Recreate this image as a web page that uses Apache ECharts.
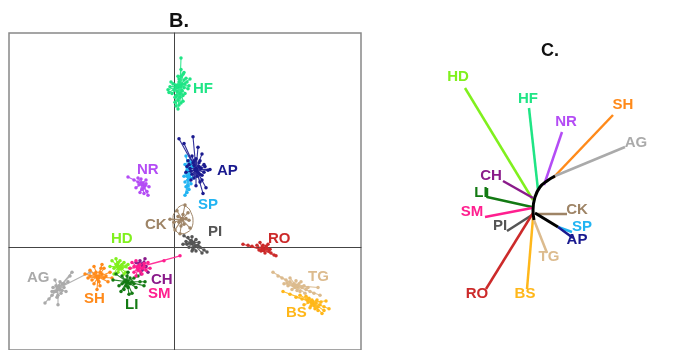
<!DOCTYPE html>
<html><head><meta charset="utf-8">
<script src="https://cdn.jsdelivr.net/npm/echarts@6/dist/echarts.min.js"></script>
<style>html,body{margin:0;padding:0;background:#fff}#c{width:697px;height:350px}</style>
</head><body><div id="c"></div>
<script>
// ---------- Panel B : PCA clusters ----------
const groups = ['AG','SH','HD','LI','CH','SM','CK','PI','NR','SP','AP','HF','RO','TG','BS'];
const groupColors = {
  HF:'#1fe585', AP:'#1a1a8f', SP:'#22b4f2', NR:'#b44cf5', CK:'#9e8466', PI:'#555555',
  RO:'#cc2a2a', TG:'#dcbb8e', BS:'#ffb71a', AG:'#aaaaaa', SH:'#ff8a1a', HD:'#80f01e',
  LI:'#137a13', SM:'#ff1f8f', CH:'#8a1a8a'
};
const centroidX = {HF:6, AP:22, SP:15, NR:-32, CK:8, PI:18, RO:89, TG:122, BS:138, AG:-116, SH:-76, HD:-56, LI:-47, SM:-36, CH:-32};
const centroidY = {HF:168, AP:81, SP:73, NR:66, CK:29, PI:5, RO:-3, TG:-40, BS:-57, AG:-43, SH:-31, HD:-20, LI:-36, SM:-21, CH:-18};

const ptsHF = [[7,197],[7,185],[9,180],[4,178],[12,176],[16,175],[5,172],[8,170],[2,168],[-4,167],[10,166],[14,165],[-6,164],[3,162],[6,160],[9,158],[1,156],[4,153],[7,150],[2,147],[4,144],[11,170],[-2,160],[8,163],[5,175],
  [10,182],[13,172],[-1,170],[0,164],[-5,161],[11,160],[6,156],[2,158],[9,152],[5,148],[3,166],[7,178],[15,168],[-3,172],[1,151],[10,174],[4,169]];
const ptsAP = [[5,113],[19,115],[10,108],[24,104],[28,97],[18,95],[14,90],[26,90],[30,86],[20,85],[16,82],[24,78],[34,80],[36,81],[28,75],[20,72],[17,70],[26,68],[22,64],[29,56],[32,62],[12,78],[19,88],[25,84],
  [22,92],[27,82],[21,80],[15,86],[30,78],[18,76],[23,74],[25,88],[13,84],[28,70],[31,84],[20,90],[17,79],[26,76]];
const ptsSP = [[12,95],[15,90],[11,86],[18,84],[13,80],[16,76],[10,74],[19,72],[14,70],[17,66],[12,63],[15,60],[13,57],[11,54],
  [14,82],[12,77],[16,72],[11,68],[14,64],[17,88],[13,74]];
const ptsNR = [[-46,73],[-40,70],[-36,72],[-33,71],[-28,70],[-31,67],[-35,65],[-29,64],[-25,63],[-38,62],[-32,60],[-27,58],[-30,56],[-34,57],[-26,54],
  [-33,66],[-30,62],[-36,68],[-28,66]];
const ptsCK = [[-4,29],[11,44],[6,14],[14,36],[3,38],[16,20],[1,18],[10,24],[4,32],[12,30],[7,22],[0,26],[15,28],[9,34],[5,26]];
const ptsPI = [[10,12],[14,10],[18,11],[22,8],[12,6],[16,4],[20,5],[24,2],[26,0],[30,-3],[33,-5],[15,0],[19,-2],[9,3],[22,-4],[28,-6],
  [17,7],[21,1],[13,3],[25,5],[18,-4]];
const ptsRO = [[69,3],[74,2],[78,1],[83,2],[86,5],[88,0],[90,-2],[93,-1],[95,-4],[97,-6],[100,-8],[102,-9],[91,-6],[85,-3],[94,3],
  [87,-4],[92,1],[89,2],[96,-2]];
const ptsTG = [[99,-26],[104,-30],[108,-32],[112,-34],[116,-36],[114,-40],[120,-38],[124,-41],[128,-42],[118,-44],[126,-46],[132,-44],[136,-46],[140,-48],[144,-42],[146,-50],[122,-35],[110,-38],
  [116,-32],[121,-42],[125,-38],[130,-40],[119,-40],[127,-36],[134,-42],[113,-37],[123,-45],[131,-48]];
const ptsBS = [[109,-46],[116,-49],[122,-52],[128,-54],[132,-51],[134,-57],[138,-55],[142,-58],[140,-61],[146,-60],[150,-62],[155,-64],[144,-66],[152,-56],[130,-60],[136,-63],[148,-69],
  [135,-53],[139,-59],[143,-55],[137,-61],[141,-64],[147,-57],[133,-55],[126,-50],[150,-66],[144,-62]];
const ptsAG = [[-129,-58],[-125,-54],[-122,-50],[-120,-46],[-118,-40],[-114,-44],[-112,-38],[-110,-42],[-106,-36],[-104,-30],[-102,-26],[-117,-52],[-121,-42],[-113,-48],[-108,-46],[-116,-60],[-119,-34],[-84,-26],
  [-115,-40],[-118,-46],[-112,-45],[-116,-50],[-110,-38],[-122,-46],[-114,-36]];
const ptsSH = [[-89,-28],[-86,-32],[-84,-24],[-80,-20],[-78,-26],[-76,-34],[-72,-28],[-70,-22],[-68,-30],[-66,-36],[-64,-26],[-62,-32],[-74,-40],[-80,-38],[-77,-44],[-72,-18],[-82,-34],
  [-78,-30],[-74,-26],[-80,-28],[-75,-36],[-70,-32],[-84,-30],[-73,-22]];
const ptsHD = [[-64,-20],[-62,-14],[-58,-12],[-54,-14],[-50,-16],[-46,-18],[-44,-22],[-48,-26],[-52,-22],[-56,-26],[-60,-28],[-58,-18],[-54,-20],[-50,-28],
  [-56,-16],[-52,-18],[-60,-22],[-48,-20],[-55,-23]];
const ptsLI = [[-61,-34],[-58,-28],[-55,-40],[-52,-30],[-50,-44],[-48,-34],[-46,-26],[-44,-38],[-42,-48],[-40,-32],[-38,-42],[-34,-36],[-30,-40],[-29,-36],[-45,-49],[-53,-46],[-36,-30],
  [-48,-40],[-44,-32],[-50,-36],[-46,-42],[-42,-36],[-52,-38],[-40,-38],[-47,-30]];
const ptsSM = [[-44,-22],[-42,-16],[-40,-26],[-38,-14],[-36,-24],[-34,-18],[-32,-28],[-30,-20],[-28,-24],[-26,-16],[-24,-22],[-38,-30],[6,-9],[-10,-14],
  [-36,-20],[-32,-22],[-40,-20],[-34,-25],[-30,-17]];
const ptsCH = [[-38,-16],[-36,-20],[-34,-14],[-32,-24],[-30,-16],[-28,-20],[-26,-26],[-33,-28],[-29,-12],[-31,-19],[-35,-17]];
const clusterPoints = {HF:ptsHF, AP:ptsAP, SP:ptsSP, NR:ptsNR, CK:ptsCK, PI:ptsPI, RO:ptsRO, TG:ptsTG, BS:ptsBS, AG:ptsAG, SH:ptsSH, HD:ptsHD, LI:ptsLI, SM:ptsSM, CH:ptsCH};

// CK confidence ellipse
const ellipseCK = [[9,44],[14,41],[17,36],[19,28],[18,21],[14,16],[7,14],[2,17],[-1,23],[-1,31],[2,38],[5,42],[9,44]];

// label anchor points (left edge, vertical middle)
const labelNamesB = ['HF','AP','SP','NR','CK','PI','HD','RO','AG','SH','LI','SM','CH','TG','BS'];
const labelXB = [19, 43, 24, -37, -29, 34, -63, 94, -147, -90, -49, -26, -23, 134, 112];
const labelYB = [165, 79, 44, 81, 23, 16, 9, 9, -32, -54, -60, -49, -34, -31, -68];

// ---------- Panel C : tree ----------
const treeNames = ['HD','HF','NR','SH','AG','CH','LI','SM','PI','RO','BS','TG','CK','SP','AP'];
const treePaths = {
  HD:[[0,10],[-68,122]], HF:[[5,20],[-4,102]], NR:[[11,25],[29,78]], SH:[[20,32],[80,95]],
  AG:[[22,34],[92,63]], CH:[[0,12],[-30,29]], LI:[[-1,3],[-46,13],[-46,22]], SM:[[-1,2],[-48,-7]],
  PI:[[-1,-5],[-26,-21]], RO:[[0,-3],[-47,-79]], BS:[[0,-8],[-6,-79]], TG:[[1,-10],[14,-43]],
  CK:[[4,-4],[34,-4]], SP:[[25,-17],[39,-22]], AP:[[25,-17],[40,-28]]
};
const treeSpine = [[1,-10],[0,0],[2,13],[7,23],[14,29],[22,34]];
const treeInner = [[2,-3],[25,-17]];
const treeLabelX = [-75, -5, 33, 90, 103, -42, -52, -61, -33, -56, -8, 16, 44, 49, 44];
const treeLabelY = [133, 111, 88, 105, 67, 34, 17, -2, -16, -84, -84, -47, 0, -17, -30];

const FONT = '"Liberation Sans", Arial, sans-serif';
const series = [];

groups.forEach(g => {
  const c = [centroidX[g], centroidY[g]];
  const star = [];
  clusterPoints[g].forEach(p => { star.push(c); star.push(p); });
  series.push({
    type:'line', xAxisIndex:0, yAxisIndex:0, data:star,
    showSymbol:true, showAllSymbol:true, symbol:'circle', symbolSize:3.5,
    itemStyle:{color:groupColors[g], opacity:1}, lineStyle:{color:groupColors[g], width:1.1, opacity:0.9},
    silent:true, z:2
  });
});
series.push({
  type:'line', xAxisIndex:0, yAxisIndex:0, data:ellipseCK, smooth:true, showSymbol:false,
  lineStyle:{color:groupColors.CK, width:1}, silent:true, z:3
});
series.push({
  type:'scatter', xAxisIndex:0, yAxisIndex:0, symbolSize:0, silent:true, z:5,
  itemStyle:{opacity:1},
  data: labelNamesB.map((n,i)=>({name:n, value:[labelXB[i], labelYB[i]],
    label:{show:true, position:'right', distance:0, formatter:n, color:groupColors[n],
      fontFamily:FONT, fontWeight:'bold', fontSize:15}}))
});

treeNames.forEach(n => {
  series.push({
    type:'line', xAxisIndex:1, yAxisIndex:1, data:treePaths[n], showSymbol:false,
    lineStyle:{color:groupColors[n], width:2.5}, silent:true, z:2
  });
});
series.push({type:'line', xAxisIndex:1, yAxisIndex:1, data:treeSpine, smooth:true, showSymbol:false,
  lineStyle:{color:'#000', width:3}, silent:true, z:3});
series.push({type:'line', xAxisIndex:1, yAxisIndex:1, data:treeInner, showSymbol:false,
  lineStyle:{color:'#000', width:3}, silent:true, z:3});
series.push({
  type:'scatter', xAxisIndex:1, yAxisIndex:1, symbolSize:0, silent:true, z:5,
  itemStyle:{opacity:1},
  data: treeNames.map((n,i)=>({name:n, value:[treeLabelX[i], treeLabelY[i]],
    label:{show:true, position:'inside', formatter:n, color:groupColors[n],
      fontFamily:FONT, fontWeight:'bold', fontSize:15}}))
});

const hiddenAxis = {axisTick:{show:false}, axisLabel:{show:false}, splitLine:{show:false}};
const chart = echarts.init(document.getElementById('c'), null, {renderer:'canvas'});
chart.setOption({
  animation:false,
  backgroundColor:'#fff',
  title:[
    {text:'B.', left:174, top:6, textAlign:'center', textStyle:{fontFamily:FONT, fontWeight:'bold', fontSize:20, color:'#111'}},
    {text:'C.', left:545, top:37, textAlign:'center', textStyle:{fontFamily:FONT, fontWeight:'bold', fontSize:18, color:'#111'}}
  ],
  grid:[
    {left:9, top:33, width:352, height:330, show:true, borderColor:'#888', borderWidth:1.5, backgroundColor:'transparent'},
    {left:433, top:60, width:220, height:250, show:false}
  ],
  xAxis:[
    Object.assign({type:'value', gridIndex:0, min:-165, max:187, axisLine:{show:true, onZero:true, lineStyle:{color:'#444', width:1}}}, hiddenAxis),
    Object.assign({type:'value', gridIndex:1, min:-100, max:120, show:false}, hiddenAxis)
  ],
  yAxis:[
    Object.assign({type:'value', gridIndex:0, min:-107, max:223, axisLine:{show:true, onZero:true, lineStyle:{color:'#444', width:1}}}, hiddenAxis),
    Object.assign({type:'value', gridIndex:1, min:-100, max:150, show:false}, hiddenAxis)
  ],
  series: series
});
</script>
</body></html>
